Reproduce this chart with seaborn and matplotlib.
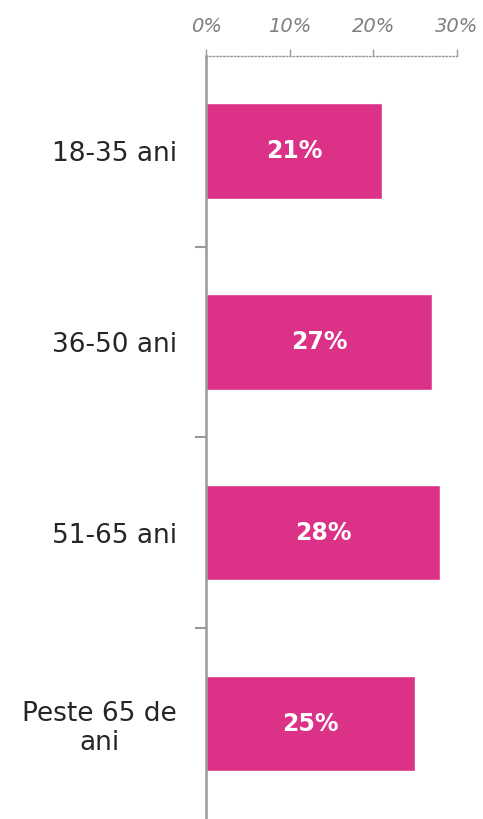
import numpy as np
import pandas as pd
import matplotlib
matplotlib.use("Agg")
import matplotlib.pyplot as plt
import seaborn as sns

# data
groups = ["18-35 ani", "36-50 ani", "51-65 ani", "Peste 65 de\nani"]
shares = [21, 27, 28, 25]
xticks = [0, 10, 20, 30]
xticklabels = ["0%", "10%", "20%", "30%"]

df = pd.DataFrame({"group": groups, "share": shares})

sns.set_style("white")
plt.rcParams['font.family'] = ['DejaVu Sans']

fig = plt.figure(figsize=(4.83, 8.19), dpi=100)
ax = fig.add_axes([0.4265, 0.0, 0.5197, 0.932])

sns.barplot(data=df, x="share", y="group", color="#DB3187", saturation=1,
            width=0.5, ax=ax, orient="h")

ax.set_xlim(0, 30)
ax.set_ylim(3.5, -0.5)
ax.set_xlabel("")
ax.set_ylabel("")

# bar value labels
for i, v in enumerate(shares):
    ax.text(v / 2, i, f"{v}%", ha="center", va="center", color="white",
            fontsize=17, fontweight="bold")

# top dotted axis
ax.xaxis.tick_top()
ax.set_xticks(xticks)
ax.set_xticklabels(xticklabels, fontsize=14, style="italic", color="#808080")
ax.tick_params(axis="x", length=5, width=1, color="#999999", pad=9)
for t in ax.xaxis.get_major_ticks():
    t.tick2line.set_linestyle((0, (1, 1)))

for s in ["right", "bottom"]:
    ax.spines[s].set_visible(False)
ax.spines["top"].set_linestyle((0, (1, 1.5)))
ax.spines["top"].set_color("#999999")
ax.spines["top"].set_linewidth(1)
ax.spines["left"].set_color("#999999")
ax.spines["left"].set_linewidth(1.8)

# category labels and separator ticks on the left
ax.set_yticks(range(len(groups)))
ax.set_yticklabels(groups, fontsize=19, color="#262626", ha="right",
                   multialignment="center", linespacing=1.15)
ax.tick_params(axis="y", which="major", left=True, length=0, pad=21)
ax.set_yticks([0.5, 1.5, 2.5], minor=True)
ax.tick_params(axis="y", which="minor", left=True, length=8, width=1.5,
               color="#999999")

fig.savefig("out.png", dpi=100)
